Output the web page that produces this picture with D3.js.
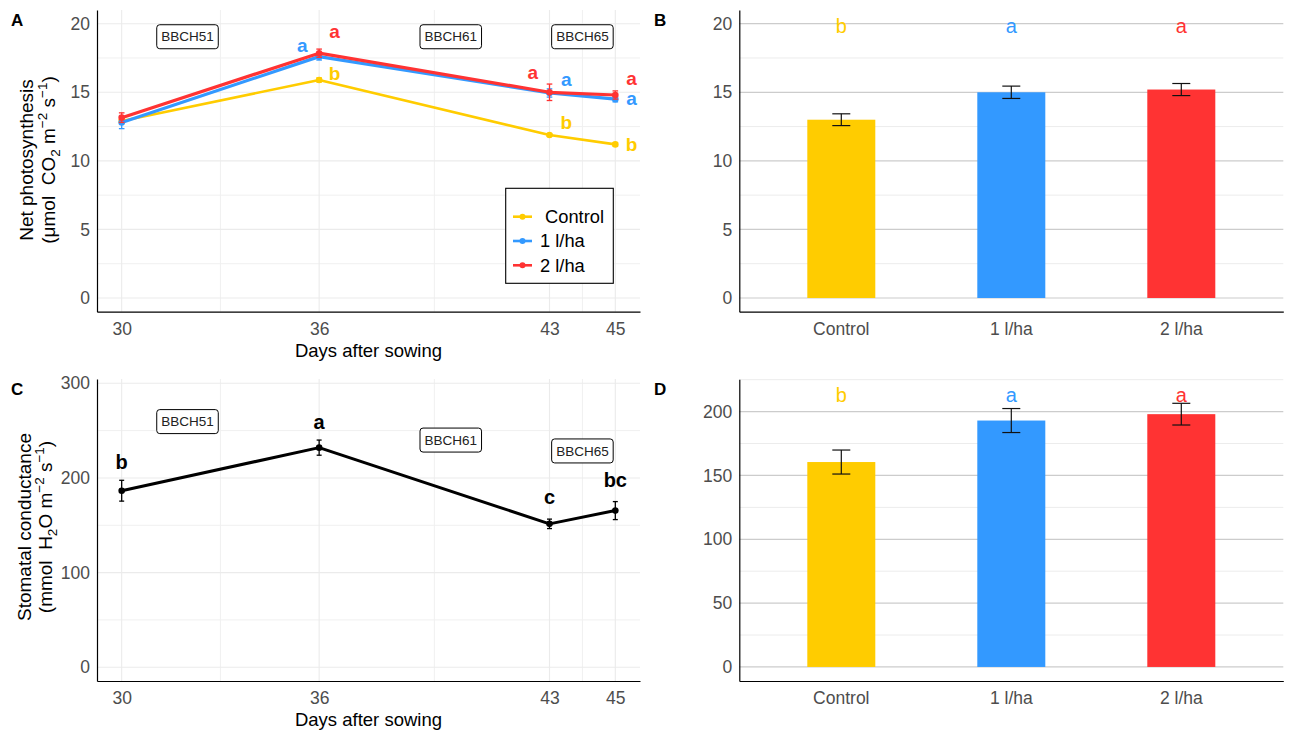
<!DOCTYPE html>
<html>
<head>
<meta charset="utf-8">
<script src="https://cdn.jsdelivr.net/npm/d3@7"></script>
<style>
  body { margin: 0; background: #fff; }
  svg text { font-family: "Liberation Sans", Arial, sans-serif; white-space: pre; }
</style>
</head>
<body>
<svg id="chart" width="1293" height="735"></svg>
<script>
// ---- data ----
const days = [30, 36, 43, 45];
const treatments = ["Control", "1 l/ha", "2 l/ha"];
const legendLabels = [" Control", "1 l/ha", "2 l/ha"];
const treatmentColors = ["#FFCC00", "#3399FF", "#FF3333"];

// A: net photosynthesis by day
const photoControl = [12.9, 15.9, 11.88, 11.2];
const photoControlSe = [0.15, 0.15, 0.1, 0.12];
const photo1 = [12.8, 17.6, 14.95, 14.5];
const photo1Se = [0.45, 0.25, 0.3, 0.2];
const photo2 = [13.15, 17.85, 15.0, 14.8];
const photo2Se = [0.35, 0.3, 0.6, 0.3];
const photoLetterText = [["", "b", "b", "b"], ["", "a", "a", "a"], ["", "a", "a", "a"]];
const photoLetterDay = [[null, 36.47, 43.51, 45.49], [null, 35.49, 43.51, 45.49], [null, 36.47, 42.49, 45.49]];
const photoLetterY = [[null, 16.38, 12.85, 11.22], [null, 18.32, 15.84, 14.4], [null, 19.3, 16.33, 15.9]];

// growth stages
const stages = ["BBCH51", "BBCH61", "BBCH65"];
const stageDays = [32, 40, 44];
const photoStageY = [19.05, 19.05, 19.05];
const condStageY = [259.5, 240, 228.5];

// B: net photosynthesis means
const photoBar = [13.0, 15.0, 15.2];
const photoBarSe = [0.43, 0.45, 0.44];
const photoBarLetters = ["b", "a", "a"];
const photoBarLetterY = 19.35;

// C: stomatal conductance by day
const cond = [186.5, 232, 151.5, 165.5];
const condSe = [11, 8, 5, 9.5];
const condLetters = ["b", "a", "c", "bc"];
const condLetterY = [217.6, 257.6, 177.6, 197.8];

// D: stomatal conductance means
const condBar = [160.5, 193, 198];
const condBarSe = [9.4, 9.4, 8.5];
const condBarLetters = ["b", "a", "a"];
const condBarLetterY = 207.4;

// ---- drawing ----
const svg = d3.select("#chart");
const tickColor = "#4d4d4d";
const tickFont = 17.5;

function midpoints(arr) {
  return arr.slice(1).map((v, i) => (v + arr[i]) / 2);
}

function panelLabel(x, y, t) {
  svg.append("text").attr("x", x).attr("y", y)
    .attr("font-size", 17).attr("font-weight", "bold").text(t);
}

function hGrid(g, y, values, x0, x1, color, w) {
  g.append("g").selectAll("line").data(values).join("line")
    .attr("x1", x0).attr("x2", x1)
    .attr("y1", d => y(d)).attr("y2", d => y(d))
    .attr("stroke", color).attr("stroke-width", w);
}

function vGrid(g, x, values, y0, y1, color, w) {
  g.append("g").selectAll("line").data(values).join("line")
    .attr("y1", y0).attr("y2", y1)
    .attr("x1", d => x(d)).attr("x2", d => x(d))
    .attr("stroke", color).attr("stroke-width", w);
}

function styleAxis(sel) {
  sel.attr("font-family", null).attr("font-size", tickFont);
  sel.selectAll("text").attr("fill", tickColor);
  sel.select(".domain").attr("stroke", "#000").attr("stroke-width", 1.2);
}

function letterDy(t) {
  return /[bdhk]/.test(t) ? "0.37em" : "0.26em";
}

function richText(sel, parts) {
  let off = 0;
  parts.forEach(([t, kind]) => {
    const target = kind === "sup" ? -8 : kind === "sub" ? 4.5 : 0;
    sel.append("tspan")
      .attr("dy", target - off)
      .attr("font-size", kind ? 13.5 : null)
      .text(t);
    off = target;
  });
}

function yTitle(cy, line1, x1, parts, x2) {
  svg.append("text")
    .attr("transform", `translate(${x1},${cy}) rotate(-90)`)
    .attr("text-anchor", "middle").attr("font-size", 19).text(line1);
  const t = svg.append("text")
    .attr("transform", `translate(${x2},${cy}) rotate(-90)`)
    .attr("text-anchor", "middle").attr("font-size", 19);
  richText(t, parts);
}

function stageBoxes(g, x, y, yVals) {
  stages.forEach((s, i) => {
    const gg = g.append("g").attr("transform", `translate(${x(stageDays[i])},${y(yVals[i])})`);
    const txt = gg.append("text").attr("text-anchor", "middle").attr("dy", "0.35em")
      .attr("font-size", 13.5).attr("fill", "#222").text(s);
    const bb = txt.node().getBBox();
    gg.insert("rect", "text")
      .attr("x", bb.x - 4.5).attr("y", -12).attr("width", bb.width + 9).attr("height", 24)
      .attr("rx", 3).attr("fill", "#fff").attr("stroke", "#000").attr("stroke-width", 1);
  });
}

function timeFrame(box, yDomain, yTicks, yMinor) {
  const x = d3.scaleLinear().domain([29.25, 45.75]).range([box.left, box.right]);
  const y = d3.scaleLinear().domain(yDomain).range([box.bottom, box.top]);
  const g = svg.append("g");
  hGrid(g, y, yMinor, box.left, box.right, "#f0f0f0", 1);
  vGrid(g, x, midpoints(days), box.top, box.bottom, "#f0f0f0", 1);
  hGrid(g, y, yTicks, box.left, box.right, "#ebebeb", 1.1);
  vGrid(g, x, days, box.top, box.bottom, "#ebebeb", 1.1);
  g.append("g").attr("transform", `translate(${box.left},0)`)
    .call(d3.axisLeft(y).tickValues(yTicks).tickSize(0).tickPadding(7).tickSizeOuter(0))
    .call(styleAxis);
  g.append("g").attr("transform", `translate(0,${box.bottom})`)
    .call(d3.axisBottom(x).tickValues(days).tickSize(0).tickPadding(11).tickSizeOuter(0))
    .call(styleAxis);
  svg.append("text").attr("x", (box.left + box.right) / 2).attr("y", box.bottom + 45)
    .attr("text-anchor", "middle").attr("font-size", 18.5).text("Days after sowing");
  return {x, y, g};
}

function seriesPlot(g, x, y, means, se, color, lw, capW) {
  const pts = days.map((d, i) => ({day: d, v: means[i], se: se[i]}));
  g.append("path").datum(pts)
    .attr("d", d3.line().x(d => x(d.day)).y(d => y(d.v)))
    .attr("fill", "none").attr("stroke", color).attr("stroke-width", lw)
    .attr("stroke-linejoin", "round");
  const eb = g.append("g").selectAll("g").data(pts).join("g")
    .attr("stroke", color).attr("stroke-width", 1.3);
  eb.append("line").attr("x1", d => x(d.day)).attr("x2", d => x(d.day))
    .attr("y1", d => y(d.v - d.se)).attr("y2", d => y(d.v + d.se));
  eb.append("line").attr("x1", d => x(d.day) - capW).attr("x2", d => x(d.day) + capW)
    .attr("y1", d => y(d.v - d.se)).attr("y2", d => y(d.v - d.se));
  eb.append("line").attr("x1", d => x(d.day) - capW).attr("x2", d => x(d.day) + capW)
    .attr("y1", d => y(d.v + d.se)).attr("y2", d => y(d.v + d.se));
  g.append("g").selectAll("circle").data(pts).join("circle")
    .attr("cx", d => x(d.day)).attr("cy", d => y(d.v)).attr("r", 3.3).attr("fill", color);
}

function barPanel(box, yDomain, yTicks, yMinor, means, se, letters, letterY) {
  const x = d3.scaleBand().domain(treatments).range([box.left, box.right])
    .paddingInner(0.6).paddingOuter(0.4);
  const y = d3.scaleLinear().domain(yDomain).range([box.bottom, box.top]);
  const g = svg.append("g");
  hGrid(g, y, yMinor, box.left, box.right, "#ececec", 1);
  hGrid(g, y, yTicks, box.left, box.right, "#cccccc", 1.2);
  const rows = treatments.map((t, i) => ({t, v: means[i], se: se[i], c: treatmentColors[i], l: letters[i]}));
  g.append("g").selectAll("rect").data(rows).join("rect")
    .attr("x", d => x(d.t)).attr("width", x.bandwidth())
    .attr("y", d => y(d.v)).attr("height", d => y(0) - y(d.v))
    .attr("fill", d => d.c);
  const cx = d => x(d.t) + x.bandwidth() / 2;
  const eb = g.append("g").selectAll("g").data(rows).join("g")
    .attr("stroke", "#111").attr("stroke-width", 1.2);
  eb.append("line").attr("x1", cx).attr("x2", cx)
    .attr("y1", d => y(d.v - d.se)).attr("y2", d => y(d.v + d.se));
  eb.append("line").attr("x1", d => cx(d) - 9).attr("x2", d => cx(d) + 9)
    .attr("y1", d => y(d.v - d.se)).attr("y2", d => y(d.v - d.se));
  eb.append("line").attr("x1", d => cx(d) - 9).attr("x2", d => cx(d) + 9)
    .attr("y1", d => y(d.v + d.se)).attr("y2", d => y(d.v + d.se));
  g.append("g").selectAll("text").data(rows).join("text")
    .attr("x", cx).attr("y", y(letterY)).attr("text-anchor", "middle")
    .attr("font-size", 20).attr("fill", d => d.c).text(d => d.l);
  g.append("g").attr("transform", `translate(${box.left},0)`)
    .call(d3.axisLeft(y).tickValues(yTicks).tickSize(0).tickPadding(7).tickSizeOuter(0))
    .call(styleAxis);
  g.append("g").attr("transform", `translate(0,${box.bottom})`)
    .call(d3.axisBottom(x).tickSize(0).tickPadding(11).tickSizeOuter(0))
    .call(styleAxis);
}

// ---- panel A ----
const boxA = {left: 97, right: 640, top: 10, bottom: 311.7};
const A = timeFrame(boxA, [-1, 21], [0, 5, 10, 15, 20], [2.5, 7.5, 12.5, 17.5]);
stageBoxes(A.g, A.x, A.y, photoStageY);
const photoSeries = [[photoControl, photoControlSe], [photo1, photo1Se], [photo2, photo2Se]];
photoSeries.forEach(([m, s], i) => seriesPlot(A.g, A.x, A.y, m, s, treatmentColors[i], i === 0 ? 2.6 : 3.2, 2.8));
photoLetterText.forEach((row, i) => {
  row.forEach((t, j) => {
    if (!t) return;
    A.g.append("text").attr("x", A.x(photoLetterDay[i][j])).attr("y", A.y(photoLetterY[i][j]))
      .attr("dy", letterDy(t)).attr("text-anchor", "middle")
      .attr("font-size", 19).attr("font-weight", "bold").attr("fill", treatmentColors[i]).text(t);
  });
});
// legend
const leg = svg.append("g");
leg.append("rect").attr("x", 505.7).attr("y", 188.3).attr("width", 107.6).attr("height", 95)
  .attr("fill", "#fff").attr("stroke", "#000").attr("stroke-width", 1.1);
const legRow = d3.scalePoint().domain(treatments).range([216.7, 265.3]);
treatments.forEach((t, i) => {
  const yy = legRow(t);
  leg.append("line").attr("x1", 513).attr("x2", 532).attr("y1", yy).attr("y2", yy)
    .attr("stroke", treatmentColors[i]).attr("stroke-width", 2.6);
  leg.append("circle").attr("cx", 522.5).attr("cy", yy).attr("r", 3).attr("fill", treatmentColors[i]);
  leg.append("text").attr("x", 540).attr("y", yy).attr("dy", "0.35em")
    .attr("font-size", 18.3).text(legendLabels[i]);
});
yTitle(160, "Net photosynthesis", 33, 
  [["(\u03bcmol  CO"], ["2", "sub"], [" m"], ["\u22122", "sup"], [" s"], ["\u22121", "sup"], [")"]], 55);
panelLabel(11, 26, "A");

// ---- panel B ----
barPanel({left: 739.3, right: 1283.3, top: 10, bottom: 311.7}, [-1, 21],
  [0, 5, 10, 15, 20], [2.5, 7.5, 12.5, 17.5], photoBar, photoBarSe, photoBarLetters, photoBarLetterY);
panelLabel(654, 26, "B");

// ---- panel C ----
const boxC = {left: 97, right: 640, top: 379, bottom: 681};
const C = timeFrame(boxC, [-14.5, 304.5], [0, 100, 200, 300], [50, 150, 250]);
stageBoxes(C.g, C.x, C.y, condStageY);
seriesPlot(C.g, C.x, C.y, cond, condSe, "#000", 3, 2.5);
C.g.append("g").selectAll("text").data(days).join("text")
  .attr("x", d => C.x(d)).attr("y", (d, i) => C.y(condLetterY[i]))
  .attr("dy", (d, i) => letterDy(condLetters[i])).attr("text-anchor", "middle")
  .attr("font-size", 20).attr("font-weight", "bold").text((d, i) => condLetters[i]);
yTitle(527, "Stomatal conductance", 31,
  [["(mmol  H"], ["2", "sub"], ["O m"], ["\u22122", "sup"], [" s"], ["\u22121", "sup"], [")"]], 52);
panelLabel(11, 394.5, "C");

// ---- panel D ----
barPanel({left: 739.3, right: 1283.3, top: 379.3, bottom: 681}, [-11, 225.3],
  [0, 50, 100, 150, 200], [25, 75, 125, 175, 225], condBar, condBarSe, condBarLetters, condBarLetterY);
panelLabel(654, 394.5, "D");
</script>
</body>
</html>
